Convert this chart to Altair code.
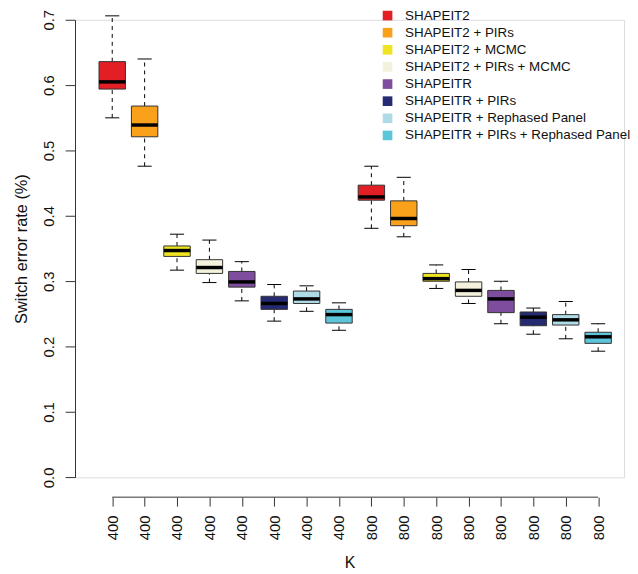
import json
import altair as alt
import pandas as pd

METHODS = [
    "SHAPEIT2",
    "SHAPEIT2 + PIRs",
    "SHAPEIT2 + MCMC",
    "SHAPEIT2 + PIRs +  MCMC",
    "SHAPEITR",
    "SHAPEITR + PIRs",
    "SHAPEITR + Rephased Panel",
    "SHAPEITR + PIRs + Rephased Panel",
]
COLORS = ["#E31F26", "#F9A11B", "#EFE420", "#F4F2DC", "#7F4D9E", "#252A73", "#AFDBE6", "#5DC5DA"]

K_LABELS = ["400"] * 8 + ["800"] * 8
GROUP = METHODS * 2

LOWER  = [0.550, 0.476, 0.317, 0.298, 0.270, 0.239, 0.254, 0.225, 0.381, 0.368, 0.289, 0.266, 0.235, 0.219, 0.212, 0.193]
Q1     = [0.594, 0.521, 0.338, 0.312, 0.291, 0.257, 0.266, 0.236, 0.424, 0.385, 0.300, 0.277, 0.252, 0.232, 0.233, 0.205]
MEDIAN = [0.605, 0.539, 0.347, 0.321, 0.299, 0.266, 0.273, 0.249, 0.429, 0.396, 0.304, 0.286, 0.273, 0.245, 0.241, 0.215]
Q3     = [0.636, 0.568, 0.354, 0.333, 0.315, 0.277, 0.285, 0.257, 0.447, 0.423, 0.312, 0.299, 0.286, 0.253, 0.249, 0.222]
UPPER  = [0.706, 0.640, 0.372, 0.363, 0.330, 0.295, 0.293, 0.267, 0.476, 0.459, 0.325, 0.318, 0.300, 0.259, 0.269, 0.235]

Y_TICKS = [0.0, 0.1, 0.2, 0.3, 0.4, 0.5, 0.6, 0.7]

df = pd.DataFrame({
    "idx": list(range(1, len(K_LABELS) + 1)),
    "K": K_LABELS,
    "method": GROUP,
    "lower": LOWER,
    "q1": Q1,
    "median": MEDIAN,
    "q3": Q3,
    "upper": UPPER,
})

BOX_HALF = 0.408
CAP_HALF = 0.218
PLOT_H = 462.3
AXIS_OFFSET = 20

xscale = alt.Scale(domain=[-0.149, 16.8], nice=False, zero=False)
yscale = alt.Scale(domain=[0, 0.7], nice=False, zero=False)

label_expr = json.dumps(K_LABELS) + "[datum.value - 1]"

base = alt.Chart(df).transform_calculate(
    bl=f"datum.idx - {BOX_HALF}",
    br=f"datum.idx + {BOX_HALF}",
    cl=f"datum.idx - {CAP_HALF}",
    cr=f"datum.idx + {CAP_HALF}",
)

x_main = alt.X(
    "idx:Q",
    scale=xscale,
    axis=alt.Axis(
        values=list(range(1, len(K_LABELS) + 1)),
        tickCount=40,
        labelExpr=label_expr,
        labelAngle=270,
        labelAlign="right",
        labelBaseline="middle",
        labelOverlap=False,
        labelFlush=False,
        domain=False,
        grid=False,
        tickSize=9,
        tickColor="#333333",
        offset=AXIS_OFFSET,
        labelFontSize=15,
        labelPadding=9,
        labelColor="#111111",
        title="K",
        titleFontSize=16,
        titleFontWeight="normal",
        titlePadding=15,
        titleColor="#111111",
    ),
)

y_axis = alt.Axis(
    values=Y_TICKS,
    tickCount=20,
    format=".1f",
    labelAngle=270,
    labelAlign="center",
    labelBaseline="bottom",
    labelOverlap=False,
    labelFlush=False,
    grid=False,
    tickSize=10,
    tickColor="#333333",
    domainColor="#333333",
    labelFontSize=15,
    labelPadding=9,
    labelColor="#111111",
    title="Switch error rate (%)",
    titleFontSize=16.5,
    titleFontWeight="normal",
    titlePadding=12,
    titleColor="#111111",
)

whisk_up = base.mark_rule(color="black", strokeWidth=1, strokeDash=[4, 4]).encode(
    x=x_main,
    y=alt.Y("q3:Q", scale=yscale, axis=y_axis),
    y2="upper:Q",
)
whisk_lo = base.mark_rule(color="black", strokeWidth=1, strokeDash=[4, 4]).encode(
    x="idx:Q", y="lower:Q", y2="q1:Q"
)
cap_up = base.mark_rule(color="black", strokeWidth=1).encode(
    x="cl:Q", x2="cr:Q", y="upper:Q"
)
cap_lo = base.mark_rule(color="black", strokeWidth=1).encode(
    x="cl:Q", x2="cr:Q", y="lower:Q"
)
boxes = base.mark_bar(stroke="#333333", strokeWidth=1).encode(
    x="bl:Q",
    x2="br:Q",
    y="q1:Q",
    y2="q3:Q",
    color=alt.Color(
        "method:N",
        scale=alt.Scale(domain=METHODS, range=COLORS),
        sort=METHODS,
        legend=alt.Legend(
            title=None,
            orient="none",
            legendX=309,
            legendY=-11,
            padding=0,
            symbolType="square",
            symbolSize=95,
            symbolStrokeWidth=0,
            symbolOpacity=1,
            labelFontSize=13.5,
            labelColor="#111111",
            labelOffset=11,
            rowPadding=2.3,
            labelLimit=300,
        ),
    ),
)
medians = base.mark_rule(color="black", strokeWidth=3.5).encode(
    x="bl:Q", x2="br:Q", y="median:Q"
)
axis_line = alt.Chart(df).transform_aggregate(
    lo="min(idx)", hi="max(idx)"
).mark_rule(color="#333333", strokeWidth=1).encode(
    x="lo:Q", x2="hi:Q", y=alt.value(PLOT_H + AXIS_OFFSET)
)

chart = alt.layer(
    whisk_up, whisk_lo, cap_up, cap_lo, boxes, medians, axis_line
).properties(
    width=554.7,
    height=PLOT_H,
    padding={"left": 67.7, "top": 9, "right": 6, "bottom": 92},
    autosize=alt.AutoSizeParams(type="none"),
).configure_view(stroke=None).configure(
    font="Liberation Sans",
)

chart.save("out.html", embed_options={"renderer": "svg", "actions": False})
